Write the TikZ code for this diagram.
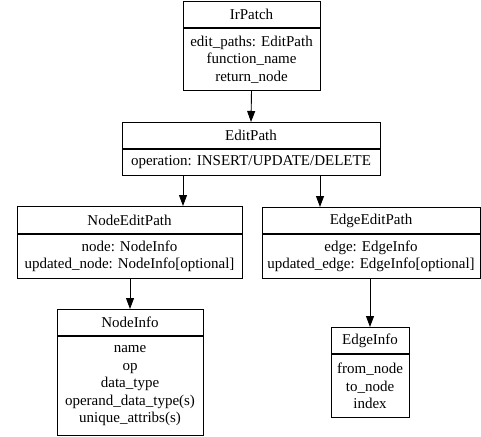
\documentclass[tikz,border=0pt]{standalone}
\usepackage{fontspec}
\setmainfont{Liberation Serif}
\usetikzlibrary{arrows.meta}

\begin{document}
\begin{tikzpicture}[x=1pt, y=-1pt,
	rechead/.style={draw, line width=0.9pt, inner sep=0pt, anchor=north, minimum height=26pt, font=\fontsize{15}{17.5}\selectfont},
	recbody/.style={draw, line width=0.9pt, inner sep=0pt, anchor=north, align=center, font=\fontsize{15}{17.5}\selectfont},
	arr/.style={line width=0.9pt, -{Triangle[length=11pt, width=8pt]}}]
\useasboundingbox (0, 0) rectangle (481, 436);

\node[rechead, minimum width=137pt] (irpatch) at (251.5, 1) {IrPatch};
\node[recbody, minimum width=137pt, minimum height=62pt] (irpatchbody) at (irpatch.south) {edit\_paths: EditPath\\function\_name\\return\_node};

\node[rechead, minimum width=258pt] (editpath) at (251, 122) {EditPath};
\node[recbody, minimum width=258pt, minimum height=26pt] (editpathbody) at (editpath.south) {operation: INSERT/UPDATE/DELETE};

\node[rechead, minimum width=225pt, minimum height=27pt] (nodeedit) at (129.5, 206) {NodeEditPath};
\node[recbody, minimum width=225pt, minimum height=44pt] (nodeeditbody) at (nodeedit.south) {node: NodeInfo\\updated\_node: NodeInfo[optional]};

\node[rechead, minimum width=218pt] (edgeedit) at (371, 207) {EdgeEditPath};
\node[recbody, minimum width=218pt, minimum height=44pt] (edgeeditbody) at (edgeedit.south) {edge: EdgeInfo\\updated\_edge: EdgeInfo[optional]};

\node[rechead, minimum width=146pt] (nodeinfo) at (130, 309) {NodeInfo};
\node[recbody, minimum width=146pt, minimum height=99pt] (nodeinfobody) at (nodeinfo.south) {name\\op\\data\_type\\operand\_data\_type(s)\\unique\_attribs(s)};

\node[rechead, minimum width=78pt] (edgeinfo) at (370, 327) {EdgeInfo};
\node[recbody, minimum width=78pt, minimum height=63pt] (edgeinfobody) at (edgeinfo.south) {from\_node\\to\_node\\index};

\coordinate (nodeport) at (183, 206);
\coordinate (edgeport) at (320, 207);

\draw[arr] (irpatchbody.south) -- (editpath.north);
\draw[arr] (nodeport |- editpathbody.south) -- (nodeport);
\draw[arr] (edgeport |- editpathbody.south) -- (edgeport);
\draw[arr] (nodeeditbody.south -| nodeinfo.north) -- (nodeinfo.north);
\draw[arr] (edgeeditbody.south -| edgeinfo.north) -- (edgeinfo.north);
\end{tikzpicture}
\end{document}
